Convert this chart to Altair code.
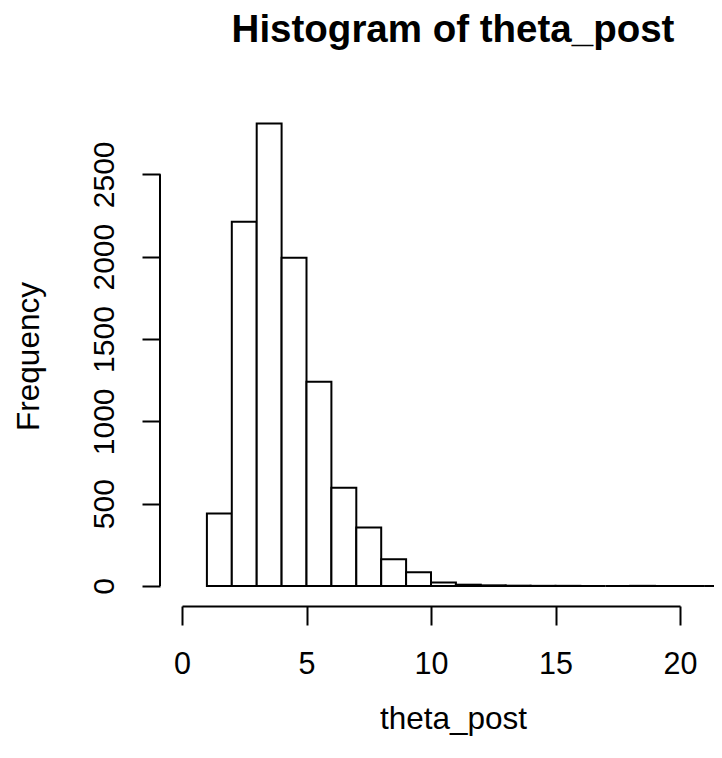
import altair as alt
import pandas as pd

# Histogram of theta_post (bins of width 1)
bin_start = list(range(1, 22))
bin_end = [b + 1 for b in bin_start]
counts = [440, 2212, 2809, 1994, 1241, 597, 355, 162, 83, 22, 8, 4, 2, 1, 1, 0, 0, 1, 0, 0, 0]

x_ticks = [0, 5, 10, 15, 20]
y_ticks = [0, 500, 1000, 1500, 2000, 2500]

df = pd.DataFrame({"start": bin_start, "end": bin_end, "count": counts, "zero": [0] * len(counts)})
yaxis_df = pd.DataFrame({"lo": [y_ticks[0]], "hi": [y_ticks[-1]]})

FONT = "Liberation Sans"

xscale = alt.Scale(domain=[0, 20], nice=False, zero=False, padding=0)
yscale = alt.Scale(domain=[0, 3000], nice=False, zero=True, padding=0)

bars = alt.Chart(df).mark_rect(
    fill="white", stroke="black", strokeWidth=2, clip=False
).encode(
    x=alt.X(
        "start:Q", scale=xscale,
        axis=alt.Axis(
            values=x_ticks, title="theta_post", offset=20, grid=False,
            domain=True, domainColor="black", domainWidth=2,
            ticks=True, tickSize=19, tickColor="black", tickWidth=2,
            labelFont=FONT, labelFontSize=30.5, labelColor="black",
            labelBaseline="middle", labelPadding=39, labelFlush=False, labelOverlap=False,
            titleFont=FONT, titleFontSize=31.5, titleFontWeight="normal", titleColor="black",
            titleX=271, titleY=113, titleBaseline="middle", titleAlign="center",
        ),
    ),
    x2="end:Q",
    y=alt.Y(
        "count:Q", scale=yscale, title="Frequency",
        axis=alt.Axis(
            values=y_ticks, format="d", title="Frequency", offset=22, grid=False,
            domain=False,
            ticks=True, tickSize=18, tickColor="black", tickWidth=2,
            labelFont=FONT, labelFontSize=30, labelColor="black",
            labelAngle=270, labelAlign="center", labelBaseline="middle",
            labelPadding=38, labelFlush=False, labelOverlap=False,
            titleFont=FONT, titleFontSize=31.5, titleFontWeight="normal", titleColor="black",
            titleAngle=270, titleX=-131, titleY=264, titleBaseline="middle", titleAlign="center",
        ),
    ),
    y2="zero:Q",
)

yline = alt.Chart(yaxis_df).mark_rule(color="black", strokeWidth=2, clip=False).encode(
    y=alt.Y("lo:Q", scale=yscale, title="Frequency"),
    y2="hi:Q",
    x=alt.value(-22),
)

chart = alt.layer(bars, yline).properties(
    width=498,
    height=494,
    title=alt.TitleParams(
        "Histogram of theta_post", font=FONT, fontSize=38.5, fontWeight="bold",
        color="black", anchor="middle", dx=22, offset=12, baseline="alphabetic",
    ),
    padding={"left": 174, "top": 84, "right": 34, "bottom": 150},
    autosize=alt.AutoSizeParams(type="none"),
    background="white",
).configure_view(stroke=None)

chart.save("out.html", embed_options={"renderer": "svg", "actions": False})
